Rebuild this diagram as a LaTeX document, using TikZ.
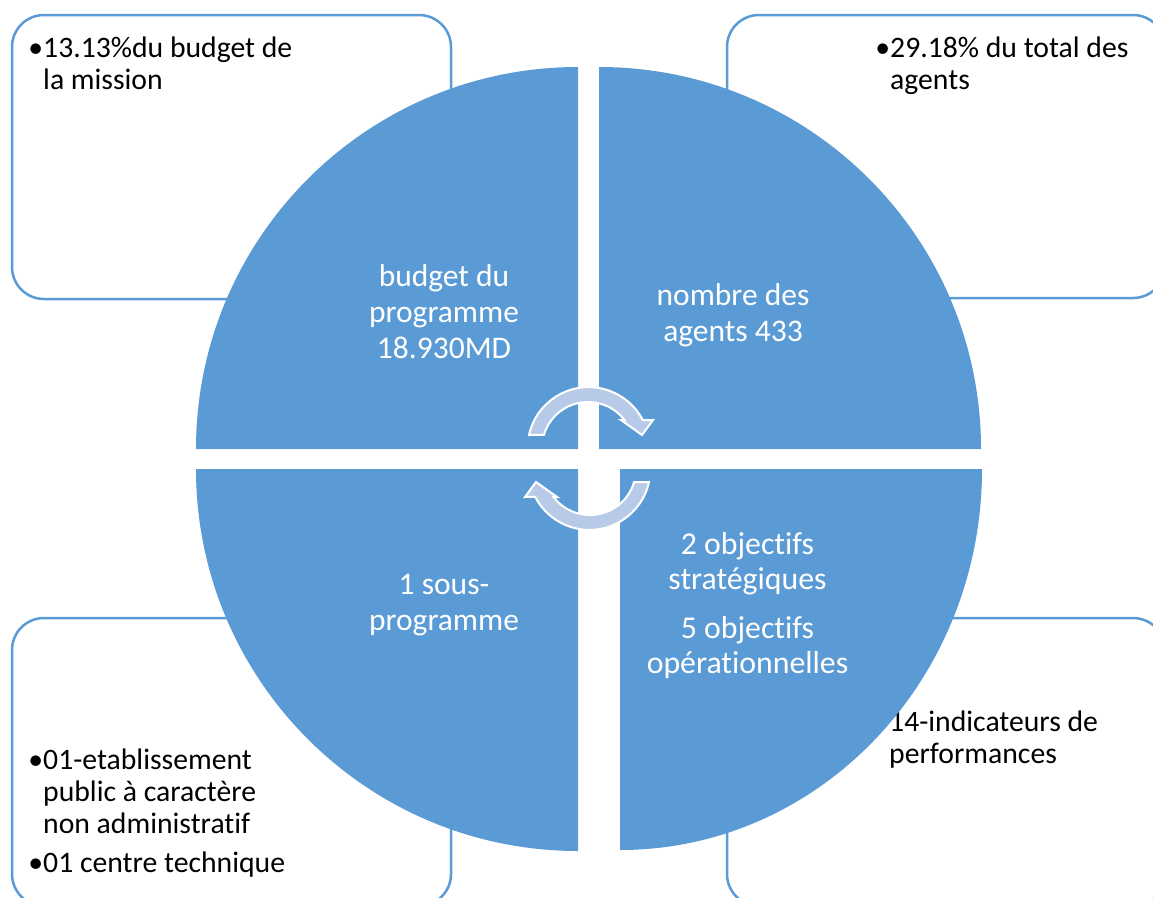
\documentclass[tikz,border=0pt]{standalone}
\usepackage{fontspec}
\setmainfont{Carlito}[Ligatures=NoCommon]
\definecolor{quad}{RGB}{91,155,213}
\definecolor{boxline}{RGB}{91,155,213}
\definecolor{arrowfill}{RGB}{183,203,233}
\begin{document}
\begin{tikzpicture}[x=1pt,y=-1pt,
  infobox/.style={draw=boxline, line width=2.5pt, rounded corners=32pt, fill=white},
  quadrant/.style={fill=quad},
  cyc/.style={fill=arrowfill, draw=white, line width=2pt, line join=miter},
  intext/.style={text=white, font=\fontsize{31.5}{36}\selectfont, align=center, inner sep=0pt, anchor=base},
  boxtext/.style={text=black, font=\fontsize{29.7}{32}\selectfont, align=left, inner sep=0pt, anchor=base west}]
\useasboundingbox (0,0) rectangle (1153,897);
% outer boxes
\draw[infobox] (12,15) rectangle (451,299);
\draw[infobox] (727,15) rectangle (1165,298);
\draw[infobox] (12,618) rectangle (451,906);
\draw[infobox] (727,618) rectangle (1165,906);
% box texts (anchor = baseline of last line)
\node[boxtext] (tlb) at (43,89) {\llap{•}13.13\%du budget de\\la mission};
\node[boxtext] (trb) at (890,89) {\llap{•}29.18\% du total des\\agents};
\node[boxtext] (blb) at (43,872) {\llap{•}01-etablissement\\public à caractère\\non administratif\\[7pt]\llap{•}01 centre technique};
\node[boxtext] (brb) at (889,763) {14-indicateurs de\\performances};
% quadrants
\fill[quadrant] (578,449) -- (196,449) arc[start angle=180, end angle=270, radius=382] -- cycle;
\fill[quadrant] (599,449) -- (599,67) arc[start angle=270, end angle=360, radius=382] -- cycle;
\fill[quadrant] (578,469) -- (578,851) arc[start angle=90, end angle=180, radius=382] -- cycle;
\fill[quadrant] (620,469) -- (982,469) arc[start angle=0, end angle=90, x radius=362, y radius=381] -- cycle;
% quadrant texts (anchor = baseline of last line)
\node[intext] (tlq) at (444,358) {budget du\\programme\\18.930MD};
\node[intext] (trq) at (733,341) {nombre des\\agents 433};
\node[intext] (blq) at (444,630) {1 sous-\\programme};
\node[intext, font=\fontsize{31.8}{35}\selectfont] (brq) at (747.5,673) {2 objectifs\\stratégiques\\[14pt]5 objectifs\\opérationnelles};
% cycle arrows
\filldraw[cyc] (529,435) arc[start angle=192.4, end angle=332.7, radius=61] -- (653,420) -- (642,435) -- (621,420) -- (624.5,420) arc[start angle=322.5, end angle=196.5, radius=46] -- cycle;
\filldraw[cyc, rotate around={180:(589,458.5)}] (529,435) arc[start angle=192.4, end angle=332.7, radius=61] -- (653,420) -- (642,435) -- (621,420) -- (624.5,420) arc[start angle=322.5, end angle=196.5, radius=46] -- cycle;
\end{tikzpicture}
\end{document}
